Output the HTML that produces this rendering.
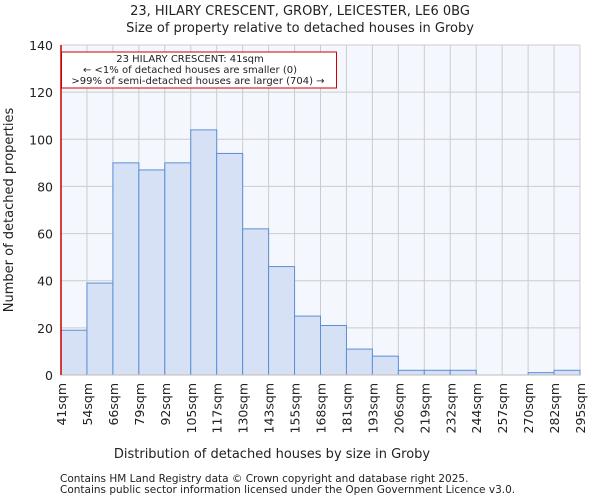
<!DOCTYPE html>
<html><head><meta charset="utf-8"><style>
body{margin:0;background:#fff;font-family:"DejaVu Sans","Liberation Sans",sans-serif;}
svg text{font-family:"DejaVu Sans","Liberation Sans",sans-serif;fill:#222;}
</style></head><body>
<svg id="c" width="600" height="500" xmlns="http://www.w3.org/2000/svg">
<text x="300" y="15" text-anchor="middle" font-size="13">23, HILARY CRESCENT, GROBY, LEICESTER, LE6 0BG</text>
<text x="300" y="32" text-anchor="middle" font-size="13">Size of property relative to detached houses in Groby</text>
<rect x="61" y="45" width="519" height="330" fill="#f4f7fe"/>
<g id="grid"></g><g id="bars"></g><g id="axes"></g>
<text x="272" y="458" text-anchor="middle" font-size="13">Distribution of detached houses by size in Groby</text>
<text transform="translate(13,210) rotate(-90)" text-anchor="middle" font-size="13">Number of detached properties</text>
<line x1="61" y1="45" x2="61" y2="375" stroke="#cc0000" stroke-width="1.5"/>
<rect x="61.5" y="52" width="275" height="36" fill="#fff" stroke="#cc0000"/>
<text x="190" y="62" text-anchor="middle" font-size="10">23 HILARY CRESCENT: 41sqm</text>
<text x="190" y="73" text-anchor="middle" font-size="10">← &lt;1% of detached houses are smaller (0)</text>
<text x="198" y="84" text-anchor="middle" font-size="10">&gt;99% of semi-detached houses are larger (704) →</text>
<text x="60" y="482" font-size="10.5" fill="#555">Contains HM Land Registry data © Crown copyright and database right 2025.</text>
<text x="60" y="493" font-size="10.5" fill="#555">Contains public sector information licensed under the Open Government Licence v3.0.</text>
</svg>
<script>
const binLabels=["41sqm","54sqm","66sqm","79sqm","92sqm","105sqm","117sqm","130sqm","143sqm","155sqm","168sqm","181sqm","193sqm","206sqm","219sqm","232sqm","244sqm","257sqm","270sqm","282sqm","295sqm"];
const counts=[19,39,90,87,90,104,94,62,46,25,21,11,8,2,2,2,0,0,1,2];
const yTicks=[0,20,40,60,80,100,120,140];
const X0=61,X1=580,Y0=375,Y1=45,YMAX=140;
const nb=counts.length;
const xs=i=>X0+(X1-X0)*i/nb;
const ys=v=>Y0-(Y0-Y1)*v/YMAX;
const NS="http://www.w3.org/2000/svg";
const mk=(t,a,p)=>{const e=document.createElementNS(NS,t);for(const k in a)e.setAttribute(k,a[k]);p.appendChild(e);return e;};
const g=document.getElementById('grid'),b=document.getElementById('bars'),ax=document.getElementById('axes');
yTicks.forEach(v=>{
 const l=mk('line',{x1:X0,x2:X1,y1:ys(v),y2:ys(v),stroke:'#cccccc'},g);
 
 
 const t=mk('text',{x:X0-8,y:ys(v)+5,'text-anchor':'end','font-size':12.5},ax);
 t.textContent=v;
 
 
});
binLabels.forEach((s,i)=>{
 const x=xs(i);
 const l=mk('line',{x1:x,x2:x,y1:Y1,y2:Y0,stroke:'#cccccc'},g);
 
 
 const t=mk('text',{transform:`translate(${x+5},${Y0+8}) rotate(-90)`,'text-anchor':'end','font-size':12.5},ax);
 t.textContent=s;
 
 
});
counts.forEach((v,i)=>{
 const r=mk('rect',{x:xs(i),y:ys(v),width:xs(i+1)-xs(i),height:Y0-ys(v),fill:'#d6e1f5',stroke:'#5b8fd6','stroke-width':1},b);
 
 
});
const bl=mk('line',{x1:X0,x2:X1,y1:Y0,y2:Y0,stroke:'#bbb'},ax);


</script>
</body></html>
